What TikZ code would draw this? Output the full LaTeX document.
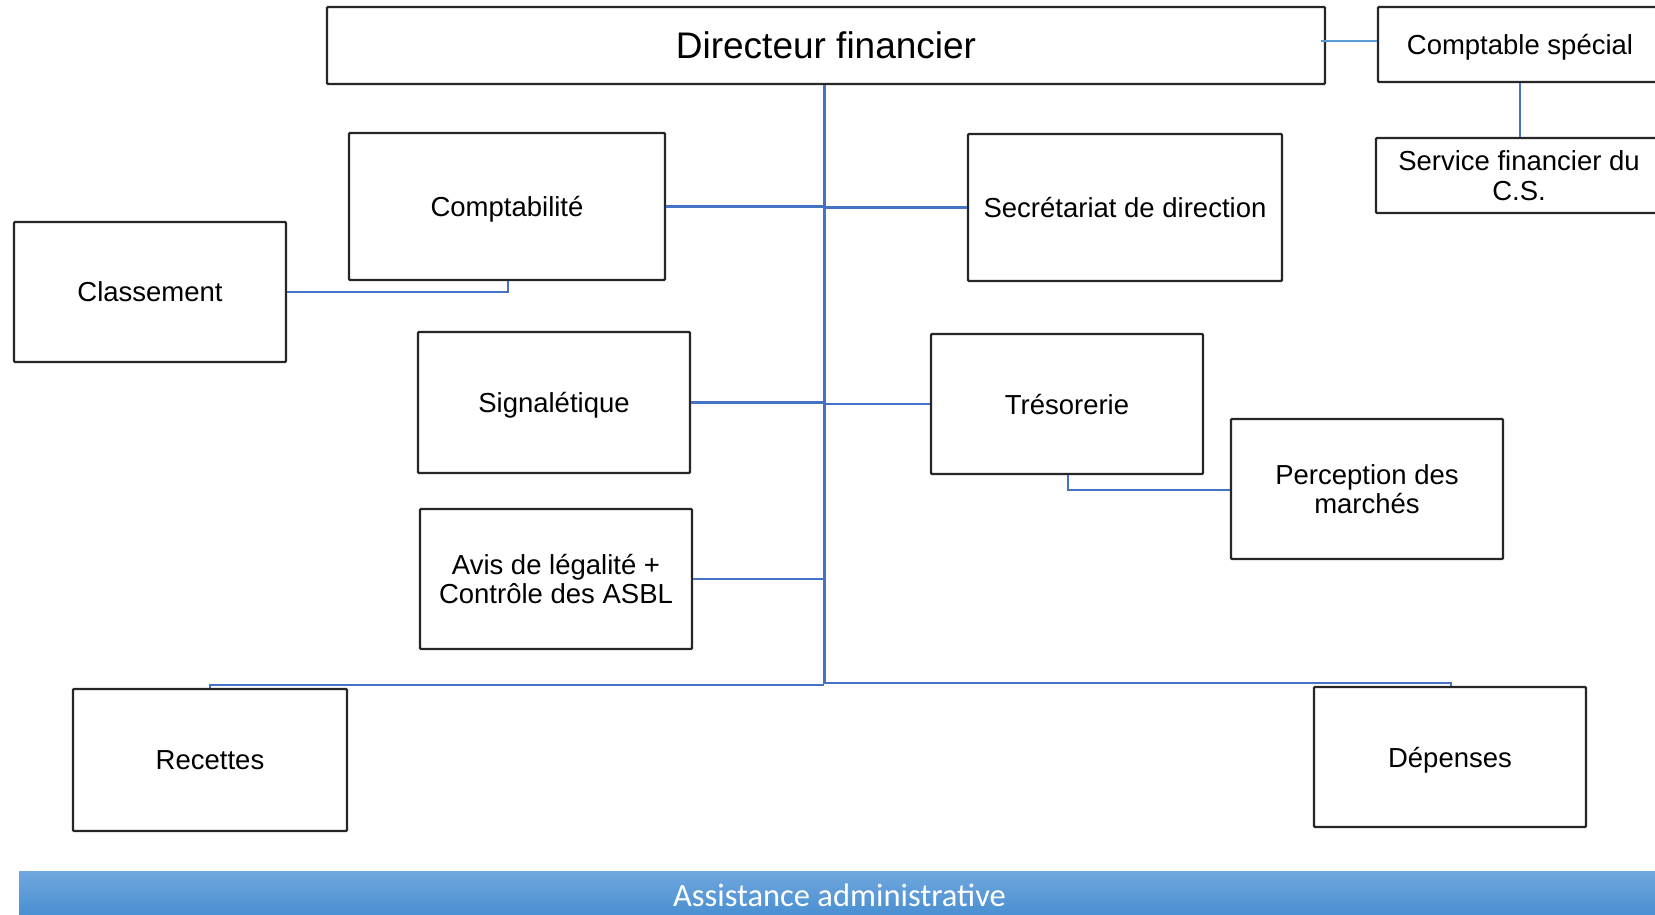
\documentclass[tikz,border=0pt]{standalone}
\usepackage{fontspec}
\setmainfont{Liberation Sans}
\newfontfamily\bannerfont{Carlito}
\definecolor{conn}{RGB}{68,114,196}
\definecolor{connlight}{RGB}{91,155,213}
\definecolor{boxline}{RGB}{38,38,38}
\definecolor{bantop}{RGB}{112,167,222}
\definecolor{banbot}{RGB}{74,144,210}
\begin{document}
\begin{tikzpicture}[x=1pt,y=-1pt,
  unit/.style={draw=boxline,line width=2.4pt,rounded corners=1pt,fill=white,
    inner sep=0pt,text depth=0pt,align=center,font=\fontsize{27.5}{29.5}\selectfont},
  link/.style={draw=conn,line width=2.6pt},
  linklight/.style={draw=connlight,line width=2pt}]
\useasboundingbox (0,0) rectangle (1655,914);
\clip (0,0) rectangle (1655,914);

\coordinate (tb) at (824,684);
\coordinate (cl) at (508,292);
\coordinate (tp) at (1068,490);
\coordinate (rc) at (210,685);
\coordinate (dp) at (1451,683);

% nodes
\node[unit,minimum width=998pt,minimum height=77pt,font=\fontsize{37}{40}\selectfont] (dir) at (826,45.5) {Directeur financier};
\node[unit,minimum width=284pt,minimum height=75pt] (cs) at (1520,44.5) {Comptable spécial};
\node[unit,minimum width=286pt,minimum height=75pt] (sf) at (1519,175.5) {Service financier du\\C.S.};
\node[unit,minimum width=316pt,minimum height=147pt] (compta) at (507,206.5) {Comptabilité};
\node[unit,minimum width=272pt,minimum height=140pt] (classement) at (150,292) {Classement};
\node[unit,minimum width=314pt,minimum height=147pt] (secr) at (1125,207.5) {Secrétariat de direction};
\node[unit,minimum width=272pt,minimum height=141pt] (signal) at (554,402.5) {Signalétique};
\node[unit,minimum width=272pt,minimum height=140pt] (treso) at (1067,404) {Trésorerie};
\node[unit,minimum width=272pt,minimum height=140pt] (percep) at (1367,489) {Perception des\\marchés};
\node[unit,minimum width=272pt,minimum height=140pt] (avis) at (556,579) {Avis de légalité +\\Contrôle des ASBL};
\node[unit,minimum width=274pt,minimum height=142pt] (recettes) at (210,760) {Recettes};
\node[unit,minimum width=272pt,minimum height=140pt] (depenses) at (1450,757) {Dépenses};

% banner
\node[draw=none,inner sep=0pt,minimum width=1641pt,minimum height=43pt,
  top color=bantop,bottom color=banbot,text=white,text height=28pt,text depth=0pt,
  font=\bannerfont\fontsize{32.5}{34}\selectfont] (banner) at (839.5,892.5) {Assistance administrative};

% trunk and branches
\draw[link,line width=3pt] (dir.south -| tb) -- (tb);
\draw[link] (compta.east) -- (compta.east -| tb);
\draw[link] (secr.west) -- (secr.west -| tb);
\draw[link] (signal.east) -- (signal.east -| tb);
\draw[link] (treso.west) -- (treso.west -| tb);
\draw[link] (avis.east) -- (avis.east -| tb);
\draw[link] (tb |- rc) -- (rc) -- (recettes.north);
\draw[link] (tb |- dp) -- (dp) -- (depenses.north -| dp);
\draw[link,line width=2pt] (compta.south -| cl) -- (cl) -- (classement.east |- cl);
\draw[link,line width=2pt] (treso.south -| tp) -- (tp) -- (percep.west |- tp);
\draw[linklight] (1321,41) -- (cs.west |- 0,41);
\draw[link,line width=2pt] (cs.south) -- (sf.north -| cs.south);
\end{tikzpicture}
\end{document}
